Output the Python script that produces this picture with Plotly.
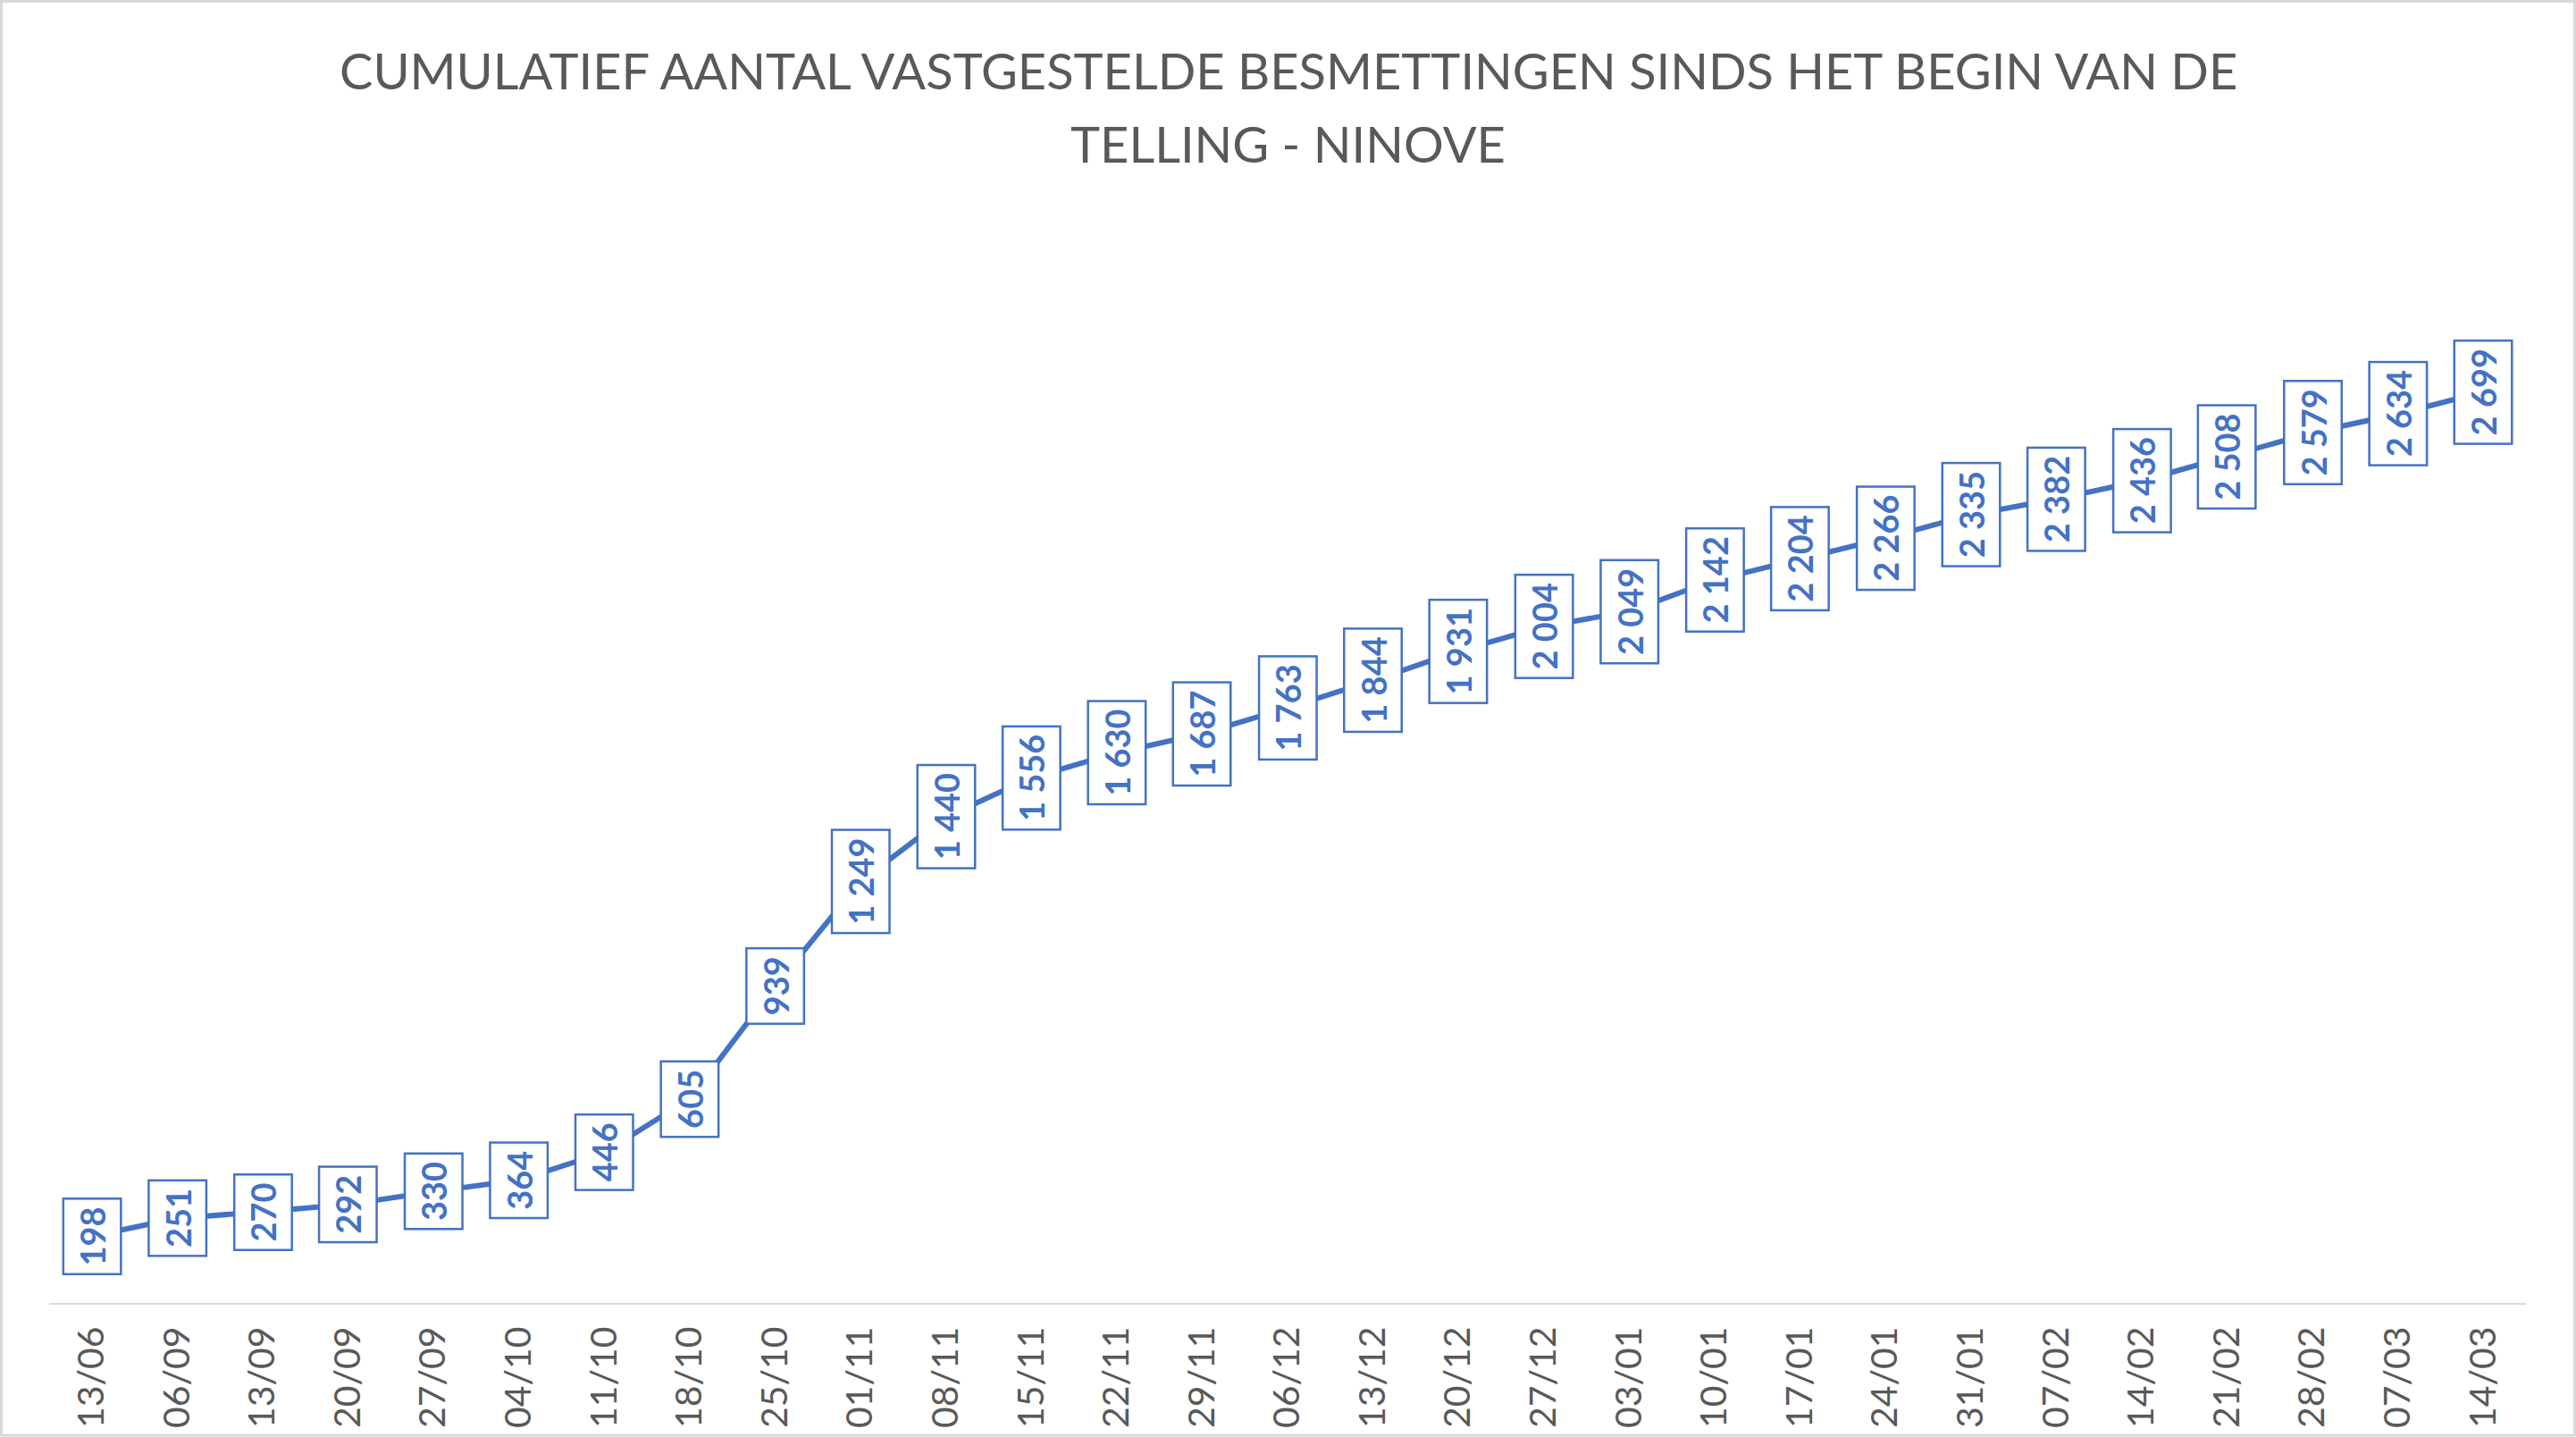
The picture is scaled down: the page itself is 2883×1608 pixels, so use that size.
import plotly.graph_objects as go

categories = ["13/06", "06/09", "13/09", "20/09", "27/09", "04/10", "11/10", "18/10", "25/10",
              "01/11", "08/11", "15/11", "22/11", "29/11", "06/12", "13/12", "20/12", "27/12",
              "03/01", "10/01", "17/01", "24/01", "31/01", "07/02", "14/02", "21/02", "28/02",
              "07/03", "14/03"]
values = [198, 251, 270, 292, 330, 364, 446, 605, 939, 1249, 1440, 1556, 1630, 1687, 1763,
          1844, 1931, 2004, 2049, 2142, 2204, 2266, 2335, 2382, 2436, 2508, 2579, 2634, 2699]
title_lines = ["CUMULATIEF AANTAL VASTGESTELDE BESMETTINGEN SINDS HET BEGIN VAN DE",
               "TELLING - NINOVE"]

W, H = 2883, 1608
ML, MR, MT, MB = 55, 56, 325, 150
BLUE = "#4472C4"
GRAY = "#595959"

def fmt(v):
    return f"{v:,}".replace(",", " ")

fig = go.Figure()
fig.add_trace(go.Scatter(x=categories, y=values, mode="lines",
                         line=dict(color=BLUE, width=6), hoverinfo="skip"))

for c, v in zip(categories, values):
    fig.add_annotation(x=c, y=v, xref="x", yref="y", text="<b>" + fmt(v) + "</b>", showarrow=False,
                       textangle=-90, bgcolor="white", bordercolor=BLUE, borderwidth=2.5,
                       borderpad=8, font=dict(family="Lato", size=38, color=BLUE, weight=800))

pw = W - ML - MR
ph = H - MT - MB
def px_x(p):
    return (p - ML) / pw
def px_y(p):
    return (H - MB - p) / ph

fig.add_shape(type="rect", xref="paper", yref="paper",
              x0=px_x(1.5), x1=px_x(2881.5), y0=px_y(1606), y1=px_y(1.5),
              line=dict(color="#D9D9D9", width=3), fillcolor="rgba(0,0,0,0)", layer="below")

for line_text, yc in zip(title_lines, [79, 160]):
    fig.add_annotation(text=line_text, xref="paper", yref="paper", x=px_x(W / 2), y=px_y(yc),
                       xanchor="center", yanchor="middle", showarrow=False,
                       font=dict(family="Lato", size=56, color=GRAY))

fig.update_layout(
    width=W, height=H,
    margin=dict(l=ML, r=MR, t=MT, b=MB, autoexpand=False),
    paper_bgcolor="white", plot_bgcolor="white",
    showlegend=False,
    xaxis=dict(type="category", range=[-0.5, len(categories) - 0.5], autorange=False,
               showgrid=False, showline=True, linecolor="#D9D9D9",
               linewidth=2, ticks="", tickangle=-90, ticklabelstandoff=8, automargin=False,
               tickfont=dict(family="Lato", size=41, color=GRAY), zeroline=False),
    yaxis=dict(range=[0, 3000], autorange=False, showgrid=False, showline=False,
               showticklabels=False, zeroline=False, ticks="", automargin=False),
)

fig.write_html("out.html", config={"displayModeBar": False},
               post_script="document.body.style.margin='0';document.body.style.overflow='hidden';")
